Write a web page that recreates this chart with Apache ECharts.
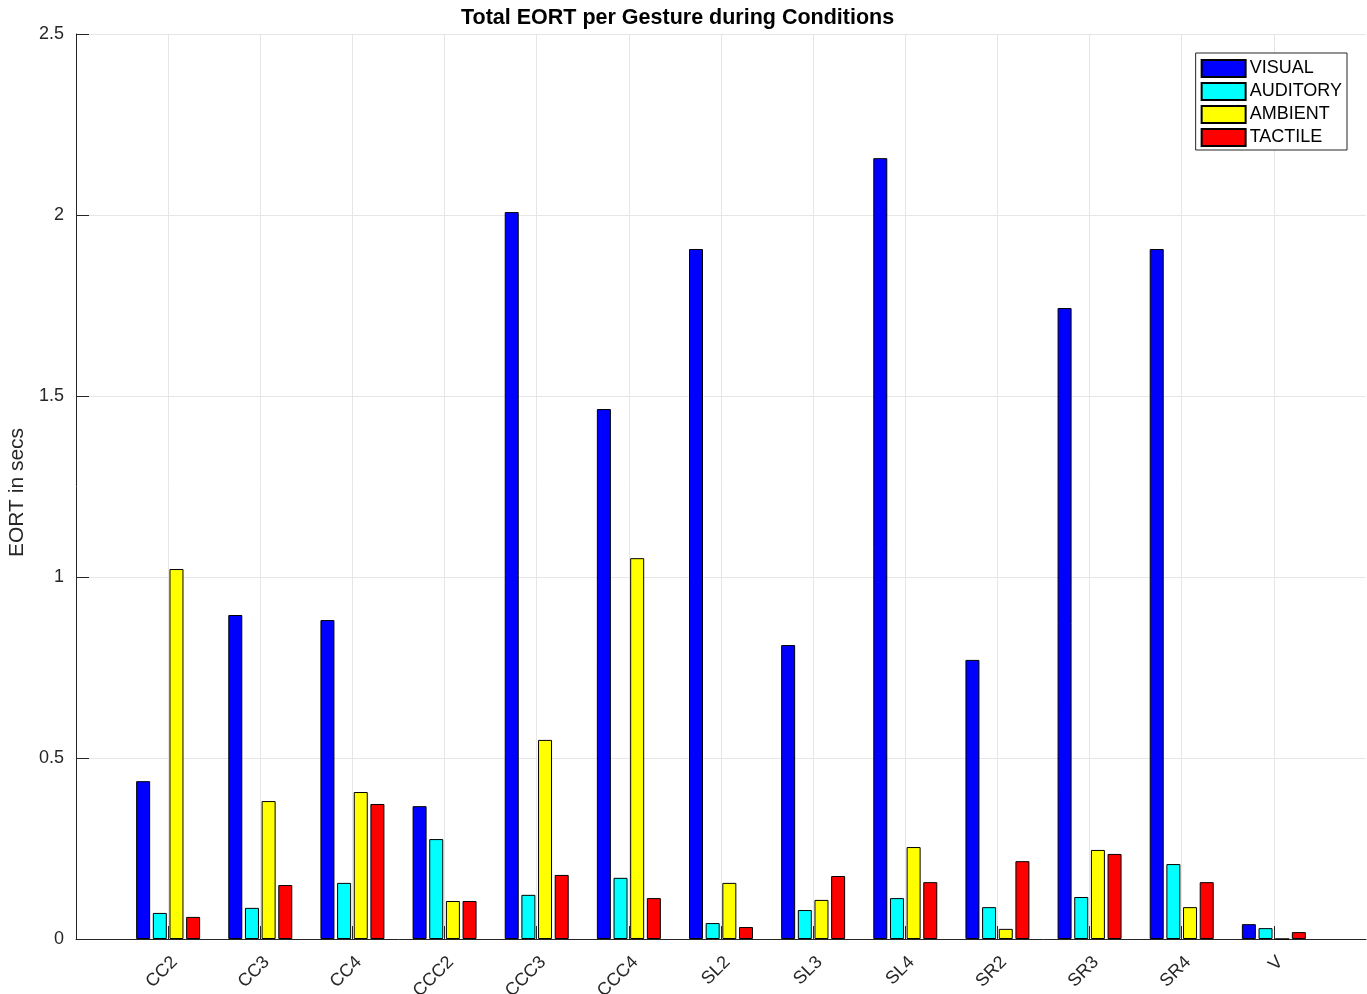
<!DOCTYPE html>
<html>
<head>
<meta charset="utf-8">
<script src="https://cdn.jsdelivr.net/npm/echarts@6/dist/echarts.min.js"></script>
<style>html,body{margin:0;padding:0;background:#fff}#c{width:1367px;height:994px}</style>
</head>
<body>
<div id="c"></div>
<script>
const categories = ['CC2','CC3','CC4','CCC2','CCC3','CCC4','SL2','SL3','SL4','SR2','SR3','SR4','V'];
const visual   = [0.436,0.895,0.881,0.367,2.008,1.464,1.906,0.812,2.157,0.771,1.743,1.906,0.041];
const auditory = [0.072,0.086,0.155,0.276,0.122,0.169,0.044,0.080,0.113,0.088,0.116,0.207,0.030];
const ambient  = [1.022,0.381,0.406,0.105,0.550,1.052,0.155,0.108,0.254,0.028,0.246,0.088,0.000];
const tactile  = [0.061,0.149,0.373,0.105,0.177,0.113,0.033,0.174,0.157,0.215,0.235,0.157,0.019];
const yTicks = [0,0.5,1,1.5,2,2.5];

const axisCats = [''].concat(categories, ['']);
const pad = a => [null].concat(a, [null]);
const FONT = 'Liberation Sans, Arial, Helvetica, sans-serif';
const TXT = '#262626';

function ser(name, data, color){
  return {
    name, type:'bar', data: pad(data), barWidth:14, barGap:'19%',
    itemStyle:{color, borderColor:'#000', borderWidth:1},
    emphasis:{disabled:true}, animation:false
  };
}

const chart = echarts.init(document.getElementById('c'));
chart.setOption({
  animation:false,
  textStyle:{fontFamily:FONT},
  title:{text:'Total EORT per Gesture during Conditions', left:456, top:2,
    textStyle:{fontFamily:FONT, fontSize:21.5, fontWeight:'bold', color:'#000'}},
  legend:{
    orient:'vertical', right:20, top:53, icon:'rect',
    itemWidth:44, itemHeight:17, itemGap:4,
    borderColor:'#262626', borderWidth:1, padding:[6,5,3,5],
    backgroundColor:'#fff',
    textStyle:{fontFamily:FONT, fontSize:18, color:'#000', padding:[0,0,0,-1]},
    data:['VISUAL','AUDITORY','AMBIENT','TACTILE']
  },
  grid:{left:76, right:1, top:34, bottom:55, containLabel:false, outerBoundsMode:'none'},
  xAxis:{
    type:'category', data:axisCats, boundaryGap:false,
    axisLine:{lineStyle:{color:'#262626', width:1}},
    axisTick:{inside:true, length:13, lineStyle:{color:'#262626'},
      interval:(i)=> i>0 && i<axisCats.length-1},
    axisLabel:{rotate:45, fontSize:18, color:TXT, fontFamily:FONT, margin:14,
      verticalAlign:'top', interval:0},
    splitLine:{show:true, lineStyle:{color:'#e6e6e6', width:1},
      interval:(i)=> i>0 && i<axisCats.length-1}
  },
  yAxis:{
    type:'value', min:0, max:2.5, interval:0.5,
    name:'EORT in secs', nameLocation:'middle', nameGap:46,
    nameTextStyle:{fontFamily:FONT, fontSize:21, color:TXT, padding:[0,12,0,0]},
    axisLine:{show:true, lineStyle:{color:'#262626', width:1}},
    axisTick:{show:true, inside:true, length:13, lineStyle:{color:'#262626'}},
    axisLabel:{fontSize:18, color:TXT, fontFamily:FONT, margin:12,
      formatter:(v)=> String(v)},
    splitLine:{show:true, lineStyle:{color:'#e6e6e6', width:1}}
  },
  series:[
    ser('VISUAL', visual, '#0000ff'),
    ser('AUDITORY', auditory, '#00ffff'),
    ser('AMBIENT', ambient, '#ffff00'),
    ser('TACTILE', tactile, '#ff0000')
  ]
});
</script>
</body>
</html>
